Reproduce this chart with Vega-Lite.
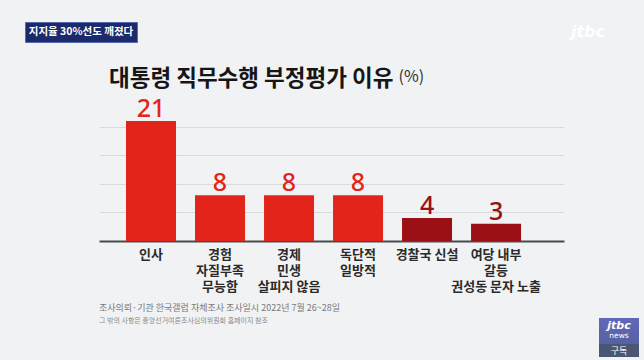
{
  "$schema": "https://vega.github.io/schema/vega-lite/v6.json",
  "background": "#f1f2f4",
  "padding": {"left": 24, "top": 21, "right": 6, "bottom": 7},
  "config": {"view": {"stroke": null}, "font": "Noto Sans CJK KR"},
  "spacing": 24,
  "vconcat": [
    {
      "hconcat": [
        {
          "width": 112,
          "height": 20,
          "view": {"fill": "#1b2a6b", "stroke": "#5a6ab0"},
          "data": {"values": [{"t": "지지율 30%선도 깨졌다"}]},
          "mark": {"type": "text", "color": "#ffffff", "fontSize": 10.5, "fontWeight": "bold", "font": "Noto Sans CJK KR"},
          "encoding": {"text": {"field": "t"}}
        },
        {
          "width": 30,
          "height": 20,
          "data": {"values": [{"t": "jtbc"}]},
          "mark": {"type": "text", "color": "#ffffff", "fontSize": 16, "fontWeight": "bold", "font": "DejaVu Sans", "fontStyle": "italic"},
          "encoding": {"text": {"field": "t"}}
        }
      ],
      "spacing": 432
    },
    {
      "spacing": 73,
      "hconcat": [
        {
          "width": 1,
          "height": 1,
          "data": {"values": [{"t": ""}]},
          "mark": {"type": "text"},
          "encoding": {"text": {"field": "t"}}
        },
        {
          "spacing": 10,
          "vconcat": [
            {
              "width": 465,
              "height": 143,
              "title": {
                "text": "대통령 직무수행 부정평가 이유",
                "anchor": "start",
                "dx": 10,
                "fontSize": 22.5,
                "fontWeight": "bold",
                "font": "Noto Sans CJK KR",
                "color": "#161616",
                "offset": -22
              },
              "data": {
                "values": [
                  {"reason": "인사", "value": 21, "group": "main"},
                  {"reason": "경험|자질부족|무능함", "value": 8, "group": "main"},
                  {"reason": "경제|민생|살피지 않음", "value": 8, "group": "main"},
                  {"reason": "독단적|일방적", "value": 8, "group": "main"},
                  {"reason": "경찰국 신설", "value": 4, "group": "other"},
                  {"reason": "여당 내부|갈등|권성동 문자 노출", "value": 3, "group": "other"}
                ]
              },
              "encoding": {
                "x": {
                  "field": "reason",
                  "type": "nominal",
                  "sort": null,
                  "scale": {"paddingInner": 0.2754, "paddingOuter": 0.507, "align": 0.386},
                  "axis": {
                    "title": null,
                    "labelAngle": 0,
                    "ticks": false,
                    "domainColor": "#4a4a4a",
                    "domainWidth": 2,
                    "labelExpr": "split(datum.label, '|')",
                    "labelFontSize": 13,
                    "labelFont": "Noto Sans CJK KR",
                    "labelFontWeight": "bold",
                    "labelColor": "#2a2a2a",
                    "labelLineHeight": 16,
                    "labelPadding": 7
                  }
                },
                "y": {
                  "field": "value",
                  "type": "quantitative",
                  "scale": {"domain": [0, 25]},
                  "axis": {
                    "title": "(%)",
                    "titleAngle": 0,
                    "titleX": 299,
                    "titleY": -22,
                    "titleAlign": "left",
                    "titleBaseline": "middle",
                    "titleFontSize": 16,
                    "titleFontWeight": "normal",
                    "titleColor": "#333333",
                    "titleFont": "Noto Sans CJK KR",
                    "values": [5, 10, 15, 20],
                    "labels": false,
                    "ticks": false,
                    "domain": false,
                    "gridColor": "#d8dade",
                    "gridWidth": 1.2
                  }
                },
                "color": {
                  "field": "group",
                  "type": "nominal",
                  "scale": {"domain": ["main", "other"], "range": ["#e2241b", "#9a1016"]},
                  "legend": null
                }
              },
              "layer": [
                {"mark": {"type": "bar", "opacity": 1}},
                {
                  "mark": {"type": "text", "baseline": "alphabetic", "dy": -4, "fontSize": 25, "font": "Noto Sans", "fontWeight": 500},
                  "encoding": {"text": {"field": "value", "type": "quantitative"}}
                }
              ]
            },
            {
              "spacing": 35,
              "hconcat": [
                {
                  "width": 465,
                  "height": 1,
                  "title": {
                    "text": "조사의뢰·기관 한국갤럽 자체조사  조사일시 2022년 7월 26~28일",
                    "subtitle": "그 밖의 사항은 중앙선거여론조사심의위원회 홈페이지 참조",
                    "anchor": "start",
                    "fontSize": 9,
                    "fontWeight": "normal",
                    "color": "#7a7a7a",
                    "subtitleFontSize": 7,
                    "subtitleColor": "#8a8a8a",
                    "subtitlePadding": 4,
                    "offset": -11,
                    "font": "Noto Sans CJK KR",
                    "subtitleFont": "Noto Sans CJK KR"
                  },
                  "data": {"values": [{"t": ""}]},
                  "mark": {"type": "text"},
                  "encoding": {"text": {"field": "t"}}
                },
                {
                  "width": 40,
                  "height": 39,
                  "view": {
                    "stroke": null,
                    "fill": {
                      "gradient": "linear",
                      "x1": 0, "y1": 0, "x2": 0, "y2": 1,
                      "stops": [
                        {"offset": 0, "color": "#6068b8"},
                        {"offset": 0.66, "color": "#5662a4"},
                        {"offset": 0.67, "color": "#4b5672"},
                        {"offset": 1, "color": "#4b5672"}
                      ]
                    }
                  },
                  "data": {"values": [{"a": "jtbc", "b": "news", "c": "구독"}]},
                  "layer": [
                    {
                      "mark": {"type": "text", "color": "#ffffff", "fontSize": 11, "fontWeight": "bold", "fontStyle": "italic", "font": "DejaVu Sans", "dy": -12},
                      "encoding": {"text": {"field": "a"}}
                    },
                    {
                      "mark": {"type": "text", "color": "#ffffff", "fontSize": 7.5, "font": "DejaVu Sans", "dy": -2},
                      "encoding": {"text": {"field": "b"}}
                    },
                    {
                      "mark": {"type": "text", "color": "#ffffff", "fontSize": 9, "font": "Noto Sans CJK KR", "dy": 13},
                      "encoding": {"text": {"field": "c"}}
                    }
                  ]
                }
              ]
            }
          ]
        }
      ]
    }
  ]
}
